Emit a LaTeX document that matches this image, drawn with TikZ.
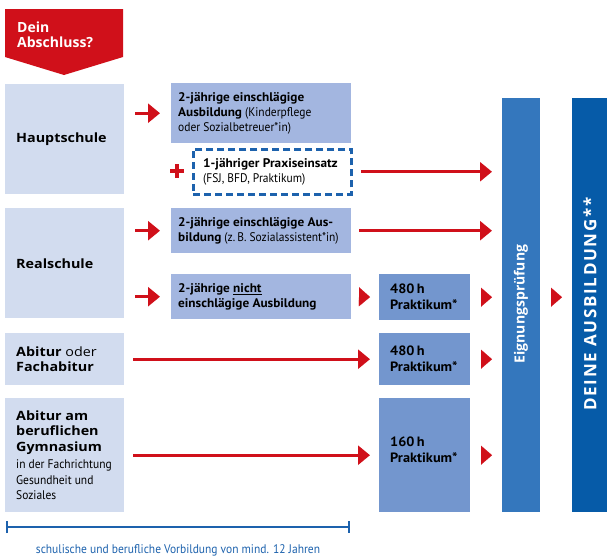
\documentclass[tikz,border=0pt]{standalone}
\usepackage{fontspec}
\setmainfont{Open Sans}
\newfontfamily\condr[FakeStretch=0.92]{PT Sans}
\newfontfamily\condw[FakeStretch=1.06]{PT Sans}
\newfontfamily\leftf[FakeStretch=1.12]{Open Sans}
\newfontfamily\spaced[LetterSpace=10]{Open Sans}
\newcommand\cbf[1]{{\condw\bfseries #1}}
\newcommand\smallc{\condr\mdseries\fontsize{12.5}{15.5}\selectfont}
\usetikzlibrary{arrows.meta,calc,positioning}
\definecolor{cred}{HTML}{D0101A}
\definecolor{leftc}{HTML}{D2DCEF}
\definecolor{midc}{HTML}{A3B6E0}
\definecolor{prakc}{HTML}{7396CE}
\definecolor{eigc}{HTML}{3477BD}
\definecolor{deinec}{HTML}{065BA8}
\definecolor{lineblue}{HTML}{1D62AD}
\begin{document}
\begin{tikzpicture}[x=1pt,y=-1pt,
  box/.style={anchor=north west, inner sep=0pt},
  lbox/.style={box, fill=leftc, minimum width=119pt},
  mbox/.style={box, fill=midc, minimum width=180pt},
  pbox/.style={box, fill=prakc, minimum width=91pt},
  txt/.style={inner sep=0pt, align=left, anchor=west},
  ltxt/.style={txt, font=\leftf\fontsize{12.8}{15.5}\selectfont},
  mtxt/.style={txt, font=\condr\fontsize{12.5}{14.7}\selectfont},
  ptxt/.style={txt, font=\condw\bfseries\fontsize{13.5}{16}\selectfont},
  bar/.style={anchor=north west, minimum height=414pt, inner sep=0pt},
  arr/.style={draw=cred, line width=2.7pt, -{Triangle[length=12pt,width=19pt]}},
  tri/.style={draw=cred, line width=0.1pt, -{Triangle[length=11pt,width=19pt]}}
]
\useasboundingbox (0,0) rectangle (607,557);

% banner
\fill[cred] (5,9) -- (123,9) -- (123,57) -- (64,75) -- (5,57) -- cycle;
\node[anchor=west, align=left, inner sep=0pt, text=white, font=\bfseries\fontsize{14}{15}\selectfont] (bannertxt) at (17,35) {Dein\\Abschluss?};

% left boxes
\node[lbox, minimum height=110pt] (haupt) at (5,84) {};
\node[lbox, minimum height=110pt] (real) at (5,208) {};
\node[lbox, minimum height=52pt] (abi) at (5,333) {};
\node[lbox, minimum height=114pt] (abig) at (5,398) {};
\node[ltxt, right=11pt of haupt.west] (hauptt) {\textbf{Hauptschule}};
\node[ltxt, right=11pt of real.west] (realt) {\textbf{Realschule}};
\node[ltxt, right=11pt of abi.west] (abit) {\textbf{Abitur} oder\\\textbf{Fachabitur}};
\node[ltxt, right=11pt of abig.west] (abigt) {\textbf{Abitur am}\\\textbf{beruflichen}\\\textbf{Gymnasium}\\[2pt]\smallc in der Fachrichtung\\\smallc Gesundheit und\\\smallc Soziales};

% middle boxes
\node[mbox, minimum height=60pt] (ha) at (171,83) {};
\node[box, draw=lineblue, line width=2.5pt, dash pattern=on 7pt off 4pt, minimum width=158pt, minimum height=45pt] (dash) at (192,148) {};
\node[mbox, minimum height=45pt] (rb1) at (171,208) {};
\node[mbox, minimum height=45pt] (rb2) at (171,274) {};
\node[mtxt, right=7pt of ha.west] (hat) {\cbf{2-jährige einschlägige}\\\cbf{Ausbildung} (Kinderpflege\\oder Sozialbetreuer*in)};
\node[mtxt, right=11pt of dash.west] (dasht) {\cbf{1-jähriger Praxiseinsatz}\\(FSJ, BFD, Praktikum)};
\node[mtxt, right=7pt of rb1.west] (rb1t) {\cbf{2-jährige einschlägige Aus-}\\\cbf{bildung} (z.\,B. Sozialassistent*in)};
\node[mtxt, right=7pt of rb2.west] (rb2t) {\cbf{2-jährige \underline{nicht}}\\\cbf{einschlägige Ausbildung}};
\node[minimum size=14pt, inner sep=0pt, path picture={\draw[cred, line width=3.2pt] (path picture bounding box.north) -- (path picture bounding box.south) (path picture bounding box.west) -- (path picture bounding box.east);}] (plus) at (177,171) {};

% praktikum boxes
\node[pbox, minimum height=46pt] (p1) at (379,274) {};
\node[pbox, minimum height=52pt] (p2) at (379,333) {};
\node[pbox, minimum height=114pt] (p3) at (379,398) {};
\node[ptxt, right=11pt of p1.west] (p1t) {480\,h\\Praktikum*};
\node[ptxt, right=11pt of p2.west] (p2t) {480\,h\\Praktikum*};
\node[ptxt] (p3t) at ($(p3.west)+(11,-5)$) {160\,h\\Praktikum*};

% bars
\node[bar, fill=eigc, minimum width=38pt] (eig) at (502,98) {};
\node[bar, fill=deinec, minimum width=35pt] (deine) at (572,98) {};
\node[rotate=90, text=white, font=\bfseries\fontsize{14}{16}\selectfont, inner sep=0pt] (eigtxt) at (521,304) {Eignungsprüfung};
\node[rotate=90, text=white, font=\spaced\bfseries\fontsize{17}{19}\selectfont, inner sep=0pt] (deinetxt) at (590,304) {DEINE AUSBILDUNG**};

% arrows
\draw[arr, shorten <=11pt, shorten >=11pt] (haupt.east |- ha.west) -- (ha.west);
\draw[arr, shorten <=11pt, shorten >=11pt] (real.east |- rb1.west) -- (rb1.west);
\draw[arr, shorten <=11pt, shorten >=11pt] (real.east |- rb2.west) -- (rb2.west);
\draw[arr, shorten <=8.5pt, shorten >=10pt] (dash.east) -- (eig.west |- dash.east);
\draw[arr, shorten <=8pt, shorten >=10pt] (rb1.east) -- (eig.west |- rb1.east);
\draw[arr, shorten <=9pt, shorten >=9pt] (abi.east) -- (p2.west);
\draw[arr, shorten <=9pt, shorten >=9pt] (abig.east) -- (p3.west);
\draw[tri, shorten <=8pt, shorten >=9pt] (rb2.east) -- (p1.west);
\draw[tri, shorten <=11pt, shorten >=10pt] (p1.east) -- (eig.west |- p1.east);
\draw[tri, shorten <=11pt, shorten >=10pt] (p2.east) -- (eig.west |- p2.east);
\draw[tri, shorten <=11pt, shorten >=10pt] (p3.east) -- (eig.west |- p3.east);
\draw[tri, shorten <=11pt, shorten >=10pt] (eig.east |- p1.east) -- (deine.west |- p1.east);

% bracket
\coordinate (brl) at (6,527);
\coordinate (brr) at (350,527);
\draw[lineblue, line width=2.4pt, {Bar[width=12pt]}-{Bar[width=12pt]}] (brl) -- (brr);
\node[anchor=base, text=lineblue, font=\condr\fontsize{12.5}{15}\selectfont, inner sep=0pt] (foot) at (178,553) {schulische und berufliche Vorbildung von mind. 12 Jahren};
\end{tikzpicture}
\end{document}
